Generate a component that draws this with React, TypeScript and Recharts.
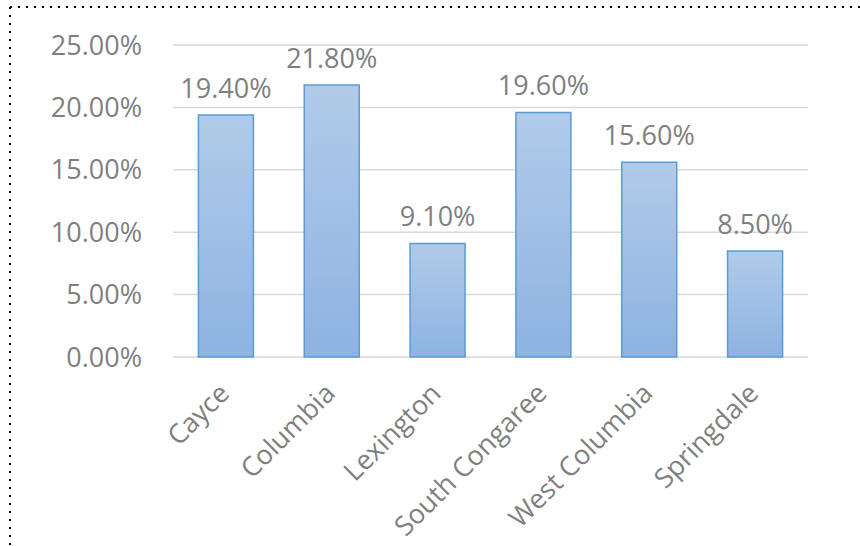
import React from 'react';
import { BarChart, Bar, XAxis, YAxis, CartesianGrid, LabelList } from 'recharts';

const towns = ['Cayce', 'Columbia', 'Lexington', 'South Congaree', 'West Columbia', 'Springdale'];
const shares = [19.4, 21.8, 9.1, 19.6, 15.6, 8.5];
const yTicks = [0, 5, 10, 15, 20, 25];

const data = towns.map((name, i) => ({ name, value: shares[i] }));

const FONT = '"Open Sans", sans-serif';
const GREY = '#7f7f7f';
const SIZE = 27;

const pct = (v: number) => `${v.toFixed(2)}%`;

function XTick(props: any) {
  const { x, y, payload } = props;
  const ax = x + 5;
  const ay = y + 30;
  return (
    <text
      x={ax}
      y={ay}
      textAnchor="end"
      fill={GREY}
      fontSize={SIZE}
      fontFamily={FONT}
      transform={`rotate(-45, ${ax}, ${ay})`}
    >
      {payload.value}
    </text>
  );
}

export default function App() {
  return (
    <div style={{ position: 'absolute', left: 0, top: 0, width: 860, height: 546, background: '#fff', overflow: 'hidden' }}>
      <div style={{ position: 'absolute', left: 0, top: 0 }}>
        <BarChart width={860} height={546} data={data} margin={{ top: 45, right: 52, bottom: 0, left: 0 }} barCategoryGap="24%">
          <defs>
            <linearGradient id="barFill" x1="0" y1="0" x2="0" y2="1">
              <stop offset="0%" stopColor="#b1cbe9" />
              <stop offset="100%" stopColor="#8db3e2" />
            </linearGradient>
          </defs>
          <CartesianGrid vertical={false} stroke="#d9d9d9" strokeWidth={1.5} />
          <XAxis dataKey="name" axisLine={false} tickLine={false} height={189} interval={0} tick={<XTick />} />
          <YAxis
            width={173}
            domain={[0, 25]}
            ticks={yTicks}
            tickFormatter={pct}
            axisLine={false}
            tickLine={false}
            tickSize={0}
            tickMargin={31}
            tick={{ fill: GREY, fontSize: SIZE, fontFamily: FONT }}
          />
          <Bar dataKey="value" fill="url(#barFill)" stroke="#5b9bd5" strokeWidth={1.5} isAnimationActive={false}>
            <LabelList dataKey="value" position="top" offset={17} formatter={(v: any) => pct(Number(v))} fill={GREY} fontSize={SIZE} fontFamily={FONT} />
          </Bar>
        </BarChart>
      </div>
      <svg width={860} height={546} style={{ position: 'absolute', left: 0, top: 0, pointerEvents: 'none' }}>
        <line x1={10} y1={7} x2={860} y2={7} stroke="#000" strokeWidth={2} strokeDasharray="2 6" />
        <line x1={10} y1={7} x2={10} y2={546} stroke="#000" strokeWidth={2} strokeDasharray="2 6" />
      </svg>
    </div>
  );
}
